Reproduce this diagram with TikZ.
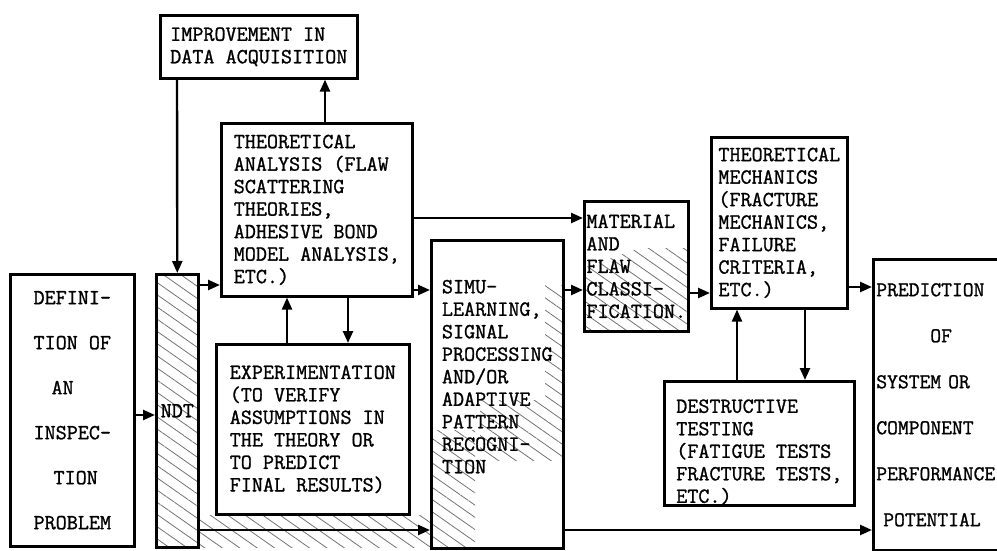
\documentclass[tikz,border=0pt]{standalone}
\usepackage{fontspec}
\newfontfamily\typer[FakeBold=1.2]{Latin Modern Mono}
\usetikzlibrary{arrows.meta,calc,patterns.meta}

\begin{document}
\begin{tikzpicture}[x=1pt,y=-1pt,
    box/.style={draw, line width=2.6pt, anchor=north west, align=left, inner sep=3pt,
      font=\typer\fontsize{21.5}{22.5}\selectfont},
    loose/.style={font=\typer\fontsize{21.5}{45}\selectfont},
    arr/.style={line width=2.4pt, -{Triangle[length=12pt,width=10pt]}},
    hatch/.style={pattern={Lines[angle=-35,distance=10pt,line width=0.8pt]}, pattern color=black!55}]
    \useasboundingbox (0,0) rectangle (997,551);

    % shaded parts
    \fill[hatch] (197,515) rectangle (430,547);
    \fill[hatch] (545,285) rectangle (562,460);
    \fill[hatch] (480,400) rectangle (545,460);
    \fill[hatch] (430,430) rectangle (475,547);
    \fill[hatch] (640,248) -- (687,248) -- (687,330) -- (583,330) -- (583,268) -- cycle;

    \node[box, minimum width=197, minimum height=63] (imp) at (159,14) {IMPROVEMENT IN\\DATA ACQUISITION};
    \node[box, minimum width=191, minimum height=173] (theory) at (220,122)
        {THEORETICAL\\ANALYSIS (FLAW\\SCATTERING\\THEORIES,\\ADHESIVE BOND\\MODEL ANALYSIS,\\ETC.)};
    \node[box, minimum width=193, minimum height=170] (exper) at (215,343)
        {EXPERIMENTATION\\(TO VERIFY\\ASSUMPTIONS IN\\THE THEORY OR\\TO PREDICT\\FINAL RESULTS)};
    \node[box, loose, minimum width=124, minimum height=272] (defn) at (9,273)
        {DEFINI-\\TION OF\\\hspace*{18pt}AN\\INSPEC-\\\hspace*{20pt}TION\\PROBLEM};
    \node[box, hatch, minimum width=42, minimum height=273, inner sep=1pt] (ndt) at (155,273) {NDT};
    \node[box, minimum width=132, minimum height=308] (simu) at (430,239)
        {SIMU-\\LEARNING,\\SIGNAL\\PROCESSING\\AND/OR\\ADAPTIVE\\PATTERN\\RECOGNI-\\TION\\[13pt]\mbox{}};
    \node[box, minimum width=104, minimum height=130, inner sep=1pt] (matl) at (583,200)
        {MATERIAL\\AND\\FLAW\\CLASSI-\\FICATION.};
    \node[box, minimum width=136, minimum height=171, inner sep=1pt] (mech) at (710,136)
        {THEORETICAL\\MECHANICS\\(FRACTURE\\MECHANICS,\\FAILURE\\CRITERIA,\\ETC.)};
    \node[box, minimum width=190, minimum height=123, inner sep=1pt] (destr) at (663,380)
        {\mbox{}\\[8pt]DESTRUCTIVE\\TESTING\\(FATIGUE TESTS\\FRACTURE TESTS,\\ETC.)};
    \node[box, text width=124, inner xsep=3pt, minimum height=291, inner ysep=1pt,
        font=\typer\fontsize{21}{46}\selectfont] (pred) at (872,258)
        {PREDICTION\\\hspace*{54pt}OF\\SYSTEM OR\\COMPONENT\\PERFORMANCE\\\hspace*{7pt}POTENTIAL};

    \draw[arr] (325,0 |- theory.north) -- (325,0 |- imp.south);
    \draw[arr] (177,0 |- imp.south) -- (ndt.north);
    \draw[arr] (0,415 -| defn.east) -- (0,415 -| ndt.west);
    \draw[arr] (0,285 -| ndt.east) -- (0,285 -| theory.west);
    \draw[arr] (287,0 |- exper.north) -- (287,0 |- theory.south);
    \draw[arr] (348,0 |- theory.south) -- (348,0 |- exper.north);
    \draw[arr] (0,218 -| theory.east) -- (0,218 -| matl.west);
    \draw[arr] (0,290 -| theory.east) -- (0,290 -| simu.west);
    \draw[arr] (0,530 -| ndt.east) -- (0,530 -| simu.west);
    \draw[arr] (0,290 -| simu.east) -- (0,290 -| matl.west);
    \draw[arr] (0,293 -| matl.east) -- (0,293 -| mech.west);
    \draw[arr] (0,287 -| mech.east) -- (0,287 -| pred.west);
    \draw[arr] (737,0 |- destr.north) -- (737,0 |- mech.south);
    \draw[arr] (805,0 |- mech.south) -- (805,0 |- destr.north);
    \draw[arr] (0,530 -| simu.east) -- (0,530 -| pred.west);
\end{tikzpicture}
\end{document}
